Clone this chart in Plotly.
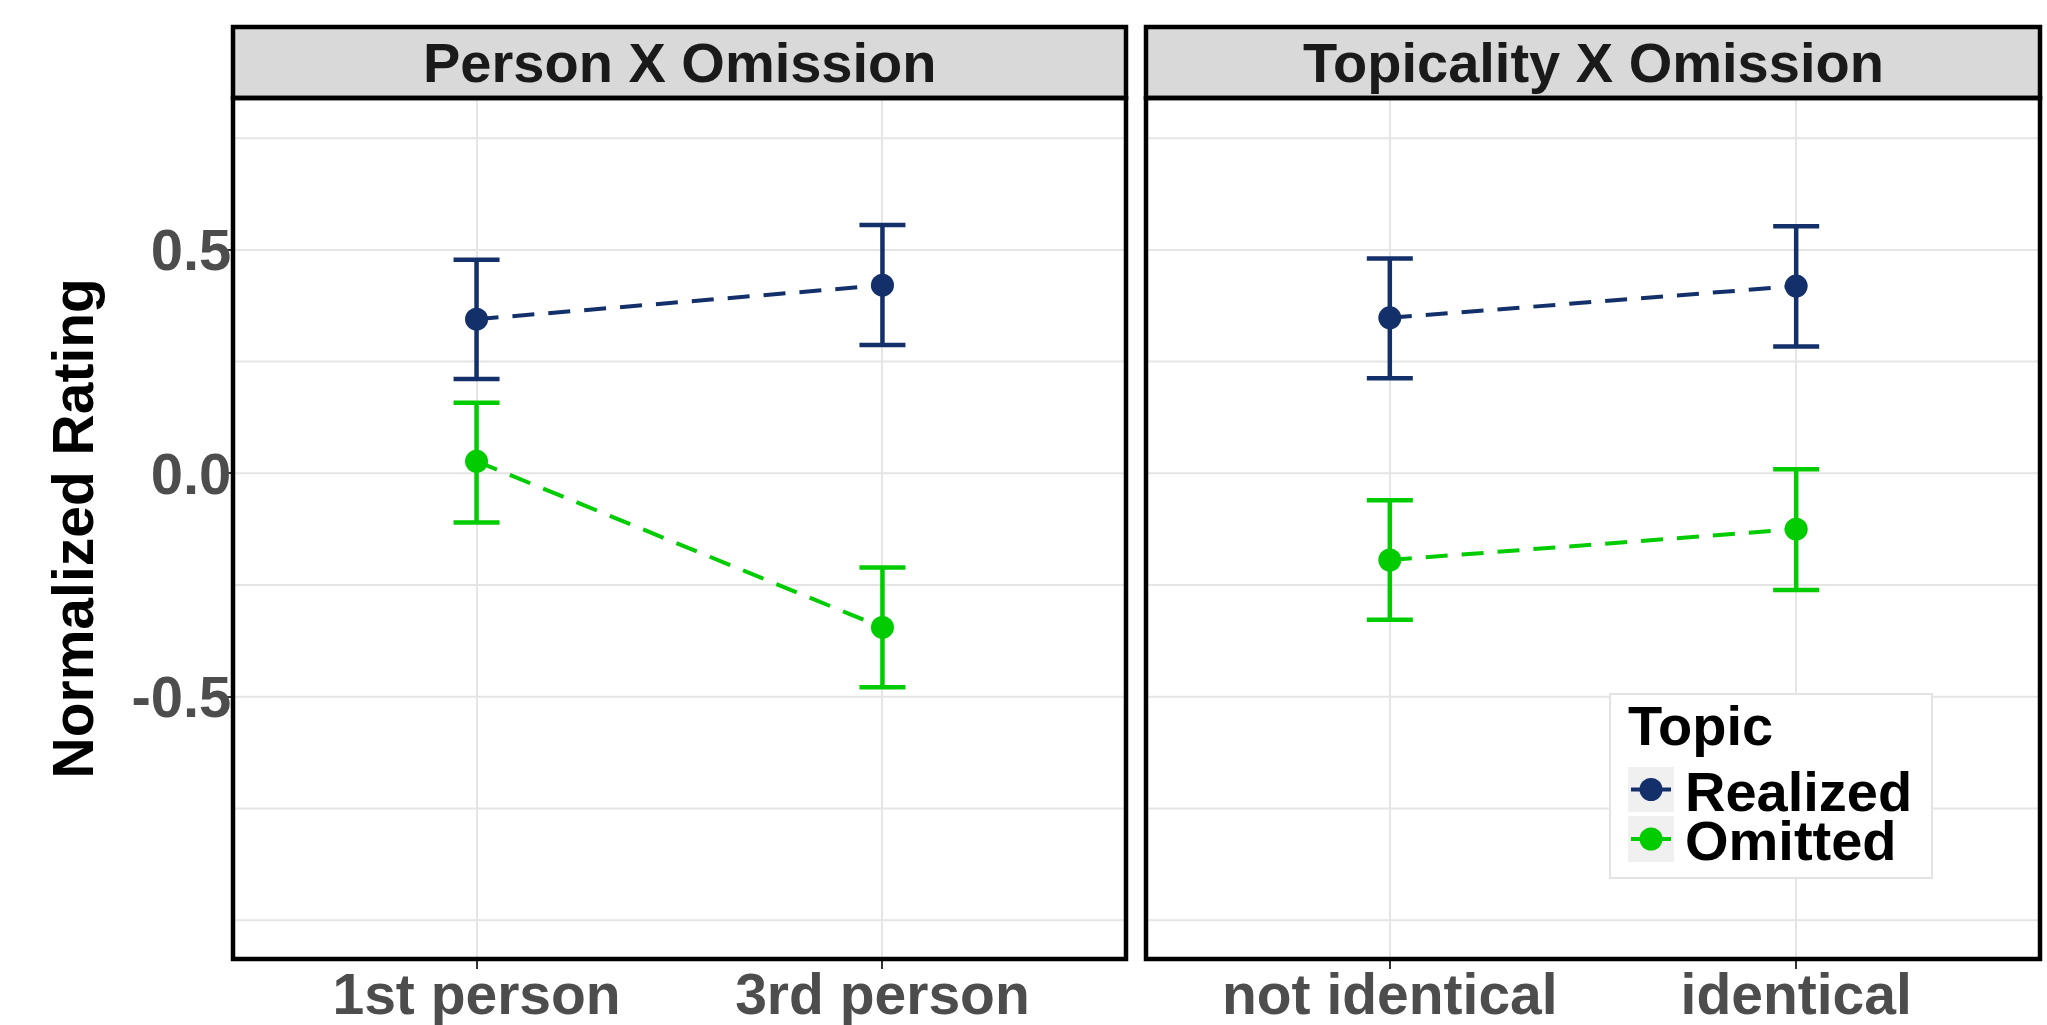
import plotly.graph_objects as go

# ---- data ----
panel_titles = ["Person X Omission", "Topicality X Omission"]
person_cats = ["1st person", "3rd person"]
topic_cats = ["not identical", "identical"]

legend_title = "Topic"
series_names = ["Realized", "Omitted"]
series_colors = ["#14306A", "#00CC00"]

# Person X Omission
person_realized = [0.345, 0.421]
person_realized_lo = [0.211, 0.287]
person_realized_hi = [0.478, 0.556]
person_omitted = [0.027, -0.345]
person_omitted_lo = [-0.110, -0.479]
person_omitted_hi = [0.158, -0.211]

# Topicality X Omission
topic_realized = [0.348, 0.419]
topic_realized_lo = [0.213, 0.284]
topic_realized_hi = [0.481, 0.553]
topic_omitted = [-0.194, -0.125]
topic_omitted_lo = [-0.328, -0.261]
topic_omitted_hi = [-0.060, 0.009]

y_ticks = [-0.5, 0.0, 0.5]
y_tick_labels = ["-0.5", "0.0", "0.5"]
y_grid = [-1.0, -0.75, -0.25, 0.25, 0.75]

# ---- layout geometry (pixels) ----
W, H = 2047, 1025
ML, MR, MT, MB = 233, 7, 98, 66
plot_w = W - ML - MR
plot_h = H - MT - MB
x1_end = (1126 - ML) / plot_w
x2_start = (1146 - ML) / plot_w
strip_h = 71 / plot_h


def px_x(p):
    return (p - ML) / plot_w


def px_y(p):
    return (H - MB - p) / plot_h


fig = go.Figure()


def add_series(xcats, y, lo, hi, color, xa, ya, name):
    fig.add_trace(go.Scatter(
        x=xcats, y=y, xaxis=xa, yaxis=ya, mode="lines+markers", name=name,
        line=dict(color=color, width=4, dash="22px,14px"),
        marker=dict(color=color, size=23),
        error_y=dict(type="data", symmetric=False,
                     array=[h - v for h, v in zip(hi, y)],
                     arrayminus=[v - l for v, l in zip(y, lo)],
                     color=color, thickness=4.5, width=23),
        showlegend=False,
    ))


add_series(person_cats, person_realized, person_realized_lo, person_realized_hi, series_colors[0], "x", "y", series_names[0])
add_series(person_cats, person_omitted, person_omitted_lo, person_omitted_hi, series_colors[1], "x", "y", series_names[1])
add_series(topic_cats, topic_realized, topic_realized_lo, topic_realized_hi, series_colors[0], "x2", "y2", series_names[0])
add_series(topic_cats, topic_omitted, topic_omitted_lo, topic_omitted_hi, series_colors[1], "x2", "y2", series_names[1])

font_family = "Liberation Sans, Arial, sans-serif"
yr = [-1.087, 0.840]
xr = [-0.6, 1.6]

xaxis_common = dict(range=xr, showgrid=True, gridcolor="#E5E5E5", gridwidth=2,
                    ticks="outside", ticklen=9, tickwidth=2, tickcolor="#333333",
                    ticklabelstandoff=-23,
                    tickfont=dict(family=font_family, size=57, color="#4D4D4D", weight="bold"),
                    zeroline=False, showline=False, fixedrange=True, automargin=False)
yaxis_common = dict(range=yr, showgrid=False, zeroline=False, showline=False, fixedrange=True,
                    tickvals=y_ticks, ticktext=y_tick_labels, automargin=False)

shapes = []
# horizontal gridlines in each panel
for xr_ref, yref in [("x domain", "y"), ("x2 domain", "y2")]:
    for g in y_grid + y_ticks:
        shapes.append(dict(type="line", xref=xr_ref, yref=yref, x0=0, x1=1, y0=g, y1=g,
                           line=dict(color="#E5E5E5", width=2), layer="below"))

# panel borders and strips
for xr_ref, yd in [("x domain", "y domain"), ("x2 domain", "y2 domain")]:
    shapes.append(dict(type="rect", xref=xr_ref, yref=yd, x0=0, x1=1, y0=1, y1=1 + strip_h,
                       fillcolor="#D9D9D9", line=dict(color="black", width=4.5), layer="above"))
    shapes.append(dict(type="rect", xref=xr_ref, yref=yd, x0=0, x1=1, y0=0, y1=1,
                       fillcolor="rgba(0,0,0,0)", line=dict(color="black", width=4.5), layer="above"))

# legend box, key backgrounds, key glyphs
shapes.append(dict(type="rect", xref="paper", yref="paper",
                   x0=px_x(1610), x1=px_x(1932), y0=px_y(878), y1=px_y(694),
                   fillcolor="white", line=dict(color="#E3E3E3", width=2), layer="above"))
key_rows = [(767, 812), (816, 862)]
for (top, bot), color in zip(key_rows, series_colors):
    shapes.append(dict(type="rect", xref="paper", yref="paper",
                       x0=px_x(1628), x1=px_x(1674), y0=px_y(bot), y1=px_y(top),
                       fillcolor="#F0F0F0", line=dict(width=0), layer="above"))
    cy = (top + bot) / 2
    shapes.append(dict(type="line", xref="paper", yref="paper",
                       x0=px_x(1631), x1=px_x(1671), y0=px_y(cy), y1=px_y(cy),
                       line=dict(color=color, width=4), layer="above"))
    shapes.append(dict(type="circle", xref="paper", yref="paper",
                       x0=px_x(1651 - 11.5), x1=px_x(1651 + 11.5),
                       y0=px_y(cy + 11.5), y1=px_y(cy - 11.5),
                       fillcolor=color, line=dict(width=0), layer="above"))

annotations = []
for i, (title, xr_ref) in enumerate(zip(panel_titles, ["x domain", "x2 domain"])):
    yd = "y domain" if i == 0 else "y2 domain"
    annotations.append(dict(text=title, xref=xr_ref, yref=yd, x=0.5, y=1 + strip_h / 2,
                            showarrow=False, xanchor="center", yanchor="middle",
                            font=dict(family=font_family, size=56, color="#1A1A1A", weight="bold")))
annotations.append(dict(text="Normalized Rating", xref="paper", yref="paper", x=0, y=0.5,
                        xanchor="center", yanchor="middle", xshift=-161, textangle=-90,
                        showarrow=False,
                        font=dict(family=font_family, size=57, color="black", weight="bold")))

legend_font = dict(family=font_family, size=56, color="black", weight="bold")
annotations.append(dict(text=legend_title, xref="paper", yref="paper", x=px_x(1626), y=px_y(725),
                        xanchor="left", yanchor="middle", showarrow=False, font=legend_font))
for (top, bot), name in zip(key_rows, series_names):
    cy = (top + bot) / 2
    annotations.append(dict(text=name, xref="paper", yref="paper", x=px_x(1683), y=px_y(cy + 1),
                            xanchor="left", yanchor="middle", showarrow=False, font=legend_font,
                            height=48, valign="middle"))

fig.update_layout(
    width=W, height=H,
    margin=dict(l=ML, r=MR, t=MT, b=MB, pad=0, autoexpand=False),
    paper_bgcolor="white", plot_bgcolor="white",
    xaxis=dict(domain=[0, x1_end], anchor="y", **xaxis_common),
    xaxis2=dict(domain=[x2_start, 1], anchor="y2", **xaxis_common),
    yaxis=dict(domain=[0, 1], anchor="x", ticks="outside", ticklen=9, tickwidth=2,
               tickcolor="#333333", ticklabelstandoff=-20,
               tickfont=dict(family=font_family, size=58, color="#4D4D4D", weight="bold"),
               **yaxis_common),
    yaxis2=dict(domain=[0, 1], anchor="x2", showticklabels=False, ticks="", **yaxis_common),
    shapes=shapes,
    annotations=annotations,
    showlegend=False,
    font=dict(family=font_family),
)

fig.write_html("out.html", config={"displayModeBar": False},
               post_script="document.body.style.margin='0';document.body.style.overflow='hidden';")
